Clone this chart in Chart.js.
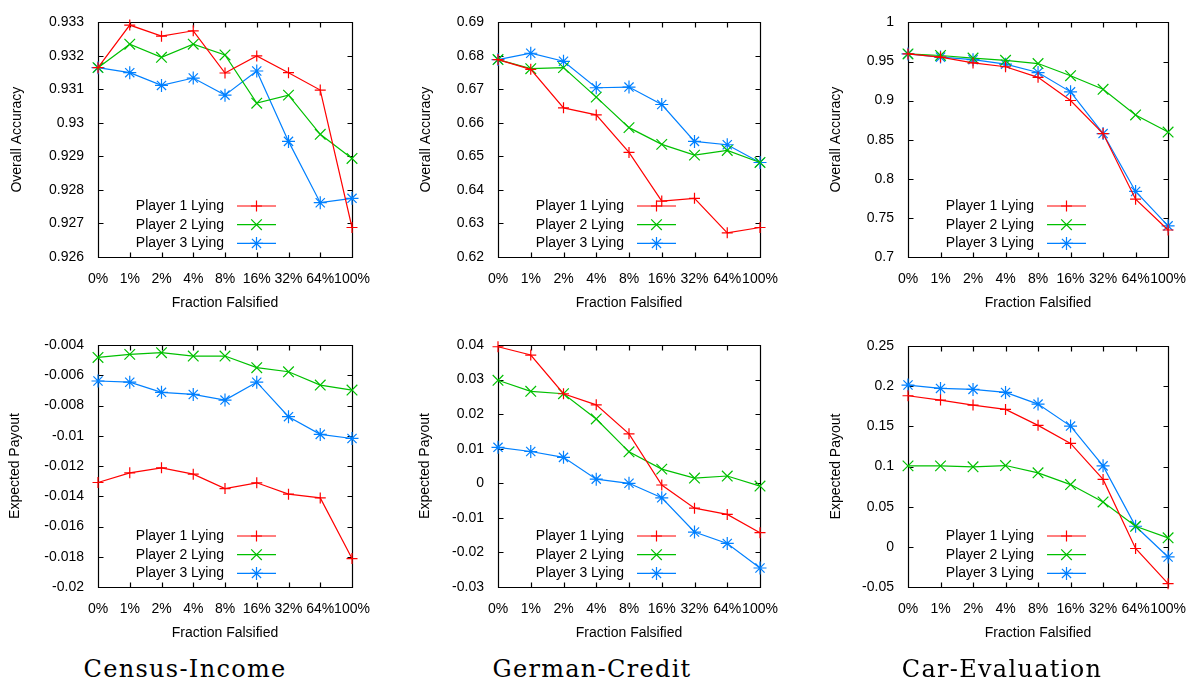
<!DOCTYPE html>
<html>
<head>
<meta charset="utf-8">
<title>Lying players</title>
<script src="https://cdn.jsdelivr.net/npm/chart.js@4.4.1/dist/chart.umd.min.js"></script>
<style>
  body { margin: 0; background: #fff; }
  #figure { position: relative; width: 1194px; height: 692px; }
  #figure canvas { position: absolute; }
  .caption {
    position: absolute; top: 657px; line-height: 24px;
    font-family: 'DejaVu Serif', serif; font-size: 24px; letter-spacing: 1.3px;
    transform: translateX(-50%); white-space: nowrap; color: #000;
  }
</style>
</head>
<body>
<div id="figure">
  <canvas id="censusAcc" width="400" height="320" style="left:0;top:0"></canvas>
  <canvas id="germanAcc" width="400" height="320" style="left:400px;top:0"></canvas>
  <canvas id="carAcc" width="400" height="320" style="left:794px;top:0"></canvas>
  <canvas id="censusPay" width="400" height="330" style="left:0;top:320px"></canvas>
  <canvas id="germanPay" width="400" height="330" style="left:400px;top:320px"></canvas>
  <canvas id="carPay" width="400" height="330" style="left:794px;top:320px"></canvas>
  <div class="caption" style="left:185px">Census-Income</div>
  <div class="caption" style="left:592px">German-Credit</div>
  <div class="caption" style="left:1002px">Car-Evaluation</div>
</div>
<script>
const fractions = ['0%', '1%', '2%', '4%', '8%', '16%', '32%', '64%', '100%'];
const players = ['Player 1 Lying', 'Player 2 Lying', 'Player 3 Lying'];

// overall accuracy
const censusAcc1 = [0.93165, 0.93292, 0.93259, 0.93275, 0.93149, 0.93200, 0.93150, 0.93098, 0.92688];
const censusAcc2 = [0.93165, 0.93235, 0.93196, 0.93235, 0.93203, 0.93059, 0.93083, 0.92966, 0.92894];
const censusAcc3 = [0.93165, 0.93150, 0.93112, 0.93134, 0.93083, 0.93155, 0.92945, 0.92762, 0.92775];

const germanAcc1 = [0.6789, 0.6760, 0.6645, 0.6624, 0.6512, 0.6367, 0.6375, 0.6272, 0.6288];
const germanAcc2 = [0.6789, 0.6762, 0.6765, 0.6677, 0.6586, 0.6536, 0.6504, 0.6518, 0.6482];
const germanAcc3 = [0.6789, 0.6808, 0.6784, 0.6705, 0.6707, 0.6655, 0.6545, 0.6535, 0.6482];

const carAcc1 = [0.9597, 0.9556, 0.9482, 0.9433, 0.9297, 0.9001, 0.8578, 0.7739, 0.7345];
const carAcc2 = [0.9597, 0.9577, 0.9544, 0.9515, 0.9474, 0.9318, 0.9145, 0.8816, 0.8598];
const carAcc3 = [0.9597, 0.9556, 0.9523, 0.9466, 0.9359, 0.9112, 0.8578, 0.7838, 0.7398];

// expected payout
const censusPay1 = [-0.01309, -0.01245, -0.01212, -0.01254, -0.01349, -0.01311, -0.01386, -0.01411, -0.01812];
const censusPay2 = [-0.00482, -0.00462, -0.00451, -0.00473, -0.00473, -0.00550, -0.00577, -0.00665, -0.00698];
const censusPay3 = [-0.00638, -0.00646, -0.00713, -0.00727, -0.00764, -0.00646, -0.00874, -0.00991, -0.01018];

const germanPay1 = [0.0395, 0.0371, 0.0259, 0.0227, 0.0143, -0.0005, -0.0072, -0.0090, -0.0143];
const germanPay2 = [0.0298, 0.0266, 0.0259, 0.0186, 0.0091, 0.0041, 0.0015, 0.0021, -0.0008];
const germanPay3 = [0.0104, 0.0092, 0.0075, 0.0012, 0.0000, -0.0042, -0.0141, -0.0174, -0.0245];

const carPay1 = [0.1881, 0.1827, 0.1765, 0.1711, 0.1512, 0.1288, 0.0839, -0.0021, -0.0458];
const carPay2 = [0.1008, 0.1008, 0.0996, 0.1012, 0.0921, 0.0775, 0.0559, 0.0256, 0.0112];
const carPay3 = [0.2014, 0.1972, 0.1960, 0.1922, 0.1777, 0.1503, 0.1008, 0.0256, -0.0126];

// y axis [min, max, step]
const censusAccRange = [0.926, 0.933, 0.001];
const germanAccRange = [0.62, 0.69, 0.01];
const carAccRange = [0.7, 1.0, 0.05];
const censusPayRange = [-0.02, -0.004, 0.002];
const germanPayRange = [-0.03, 0.04, 0.01];
const carPayRange = [-0.05, 0.25, 0.05];

const lineColors = ['#ff0000', '#00c000', '#0080ff'];
const markers = ['cross', 'crossRot', 'star'];
const markerSizes = [5.5, 7.5, 6.5];
const FONT = "'Liberation Sans', Arial, sans-serif";

Chart.defaults.font.family = FONT;
Chart.defaults.font.size = 14;
Chart.defaults.color = '#000';

// box border with gnuplot style inward ticks on every side
const framePlugin = {
    id: 'frame',
    beforeDatasetsDraw(chart) {
        const { ctx, chartArea: a, scales: { x, y } } = chart;
        const L = Math.round(a.left) + 0.5, R = Math.round(a.right) + 0.5;
        const T = Math.round(a.top) + 0.5, B = Math.round(a.bottom) + 0.5;
        ctx.save();
        ctx.strokeStyle = '#000';
        ctx.lineWidth = 1.2;
        ctx.beginPath();
        ctx.rect(L, T, R - L, B - T);
        y.ticks.forEach((t, i) => {
            const py = Math.round(y.getPixelForTick(i)) + 0.5;
            ctx.moveTo(L, py); ctx.lineTo(L + 5, py);
            ctx.moveTo(R, py); ctx.lineTo(R - 5, py);
        });
        x.ticks.forEach((t, i) => {
            const px = Math.round(x.getPixelForTick(i)) + 0.5;
            ctx.moveTo(px, B); ctx.lineTo(px, B - 5);
            ctx.moveTo(px, T); ctx.lineTo(px, T + 5);
        });
        ctx.stroke();
        ctx.restore();
    }
};

// key inside the plot: label on the left, line sample with marker on the right
const keyPlugin = {
    id: 'key',
    afterDatasetsDraw(chart) {
        const { ctx, chartArea: a } = chart;
        ctx.save();
        chart.data.datasets.forEach((ds, i) => {
            const yy = a.bottom - 51 + i * 18.7;
            ctx.fillStyle = '#000';
            ctx.font = '14px ' + FONT;
            ctx.textAlign = 'right';
            ctx.textBaseline = 'middle';
            ctx.fillText(ds.label, a.left + 126, yy);
            ctx.strokeStyle = ds.borderColor;
            ctx.lineWidth = ds.borderWidth;
            ctx.beginPath();
            ctx.moveTo(a.left + 139, yy);
            ctx.lineTo(a.left + 178, yy);
            ctx.stroke();
            Chart.helpers.drawPoint(ctx, {
                pointStyle: ds.pointStyle, radius: ds.pointRadius, borderWidth: 1, rotation: 0
            }, a.left + 158.5, yy);
        });
        ctx.restore();
    }
};

function makePanel(id, series, range, yTitle, geom) {
    const datasets = series.map((values, i) => ({
        label: players[i],
        data: values,
        borderColor: lineColors[i],
        pointBorderColor: lineColors[i],
        pointBackgroundColor: lineColors[i],
        borderWidth: 1.2,
        pointStyle: markers[i],
        pointRadius: markerSizes[i],
        pointBorderWidth: 1.2,
        tension: 0,
        fill: false,
        clip: false
    }));
    return new Chart(document.getElementById(id), {
        type: 'line',
        data: { labels: fractions, datasets: datasets },
        options: {
            responsive: false,
            animation: false,
            devicePixelRatio: 1,
            layout: { autoPadding: false, padding: { left: 0, top: geom.top, right: geom.right, bottom: 0 } },
            plugins: { legend: { display: false }, tooltip: { enabled: false } },
            scales: {
                x: {
                    type: 'category',
                    offset: false,
                    grid: { display: false, drawTicks: false },
                    border: { display: false },
                    // tall line height pushes the labels down without widening the side padding
                    ticks: { autoSkip: false, maxRotation: 0, minRotation: 0, padding: 8, font: { lineHeight: 2.0 } },
                    title: { display: true, text: 'Fraction Falsified', padding: { top: 0, bottom: 8.5 } },
                    afterFit: (scale) => { scale.height = 63; }
                },
                y: {
                    min: range[0],
                    max: range[1],
                    grid: { display: false, drawTicks: false },
                    border: { display: false },
                    ticks: {
                        stepSize: range[2],
                        padding: 14,
                        callback: (v) => String(+v.toFixed(6))
                    },
                    title: { display: true, text: yTitle, padding: { top: geom.titleGap, bottom: 0 } },
                    afterFit: (scale) => { scale.width = geom.axisWidth; }
                }
            }
        },
        plugins: [framePlugin, keyPlugin]
    });
}

makePanel('censusAcc', [censusAcc1, censusAcc2, censusAcc3], censusAccRange, 'Overall Accuracy',
    { top: 14, right: 48, axisWidth: 98, titleGap: 8.6 });
makePanel('germanAcc', [germanAcc1, germanAcc2, germanAcc3], germanAccRange, 'Overall Accuracy',
    { top: 14, right: 40, axisWidth: 98, titleGap: 17.6 });
makePanel('carAcc', [carAcc1, carAcc2, carAcc3], carAccRange, 'Overall Accuracy',
    { top: 14, right: 24, axisWidth: 114, titleGap: 33.6 });
makePanel('censusPay', [censusPay1, censusPay2, censusPay3], censusPayRange, 'Expected Payout',
    { top: 25, right: 48, axisWidth: 98, titleGap: 6.6 });
makePanel('germanPay', [germanPay1, germanPay2, germanPay3], germanPayRange, 'Expected Payout',
    { top: 25, right: 40, axisWidth: 98, titleGap: 16.6 });
makePanel('carPay', [carPay1, carPay2, carPay3], carPayRange, 'Expected Payout',
    { top: 26, right: 24, axisWidth: 114, titleGap: 33.6 });
</script>
</body>
</html>
